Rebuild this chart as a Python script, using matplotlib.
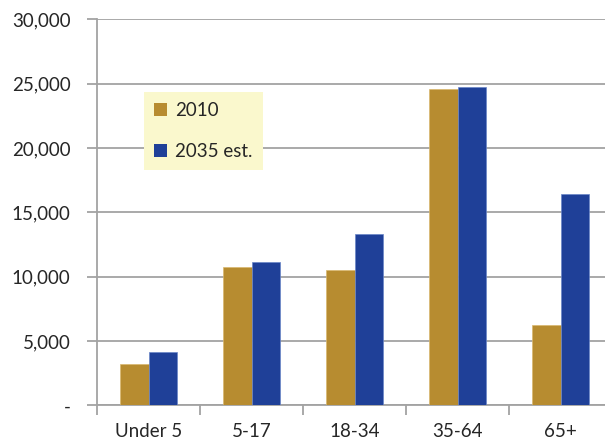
import matplotlib
matplotlib.use("Agg")
import matplotlib.pyplot as plt
from matplotlib.ticker import FixedLocator, FuncFormatter
import numpy as np

plt.rcParams['font.family'] = ['Lato', 'DejaVu Sans']

# Population by age group (thousands)
age_groups = ["Under 5", "5-17", "18-34", "35-64", "65+"]
pop_2010 = [3190, 10720, 10490, 24550, 6240]
pop_2035 = [4170, 11110, 13310, 24730, 16390]
series_labels = ["2010", "2035 est."]

gold = "#B78C30"
blue = "#1F4098"
grid_grey = "#A3A3A3"
text_col = "#262626"

fig = plt.figure(figsize=(6.05, 4.43), dpi=100)
ax = fig.add_axes([97 / 605, 37.7 / 443, 515 / 605, 386 / 443])

x = np.arange(len(age_groups))
w = 0.28
b1 = ax.bar(x - w / 2, pop_2010, width=w, color=gold, edgecolor="#D9B86E",
            linewidth=0.5, zorder=3, label=series_labels[0])
b2 = ax.bar(x + w / 2, pop_2035, width=w, color=blue, edgecolor="#6A86C8",
            linewidth=0.5, zorder=3, label=series_labels[1])

ax.set_xlim(-0.5, len(age_groups) - 0.5)
ax.set_ylim(0, 30000)

# y axis: gridlines and comma-formatted ticks, zero shown as a dash
ax.set_yticks(np.arange(0, 30001, 5000))
ax.yaxis.set_major_formatter(FuncFormatter(lambda v, p: "-" if v == 0 else f"{int(v):,}"))
ax.yaxis.grid(True, color=grid_grey, linewidth=1.3, zorder=0)
ax.set_axisbelow(True)

# x axis: tick marks between groups, labels centred under each group
ax.xaxis.set_major_locator(FixedLocator(np.arange(-0.5, len(age_groups), 1.0)))
ax.xaxis.set_major_formatter(FuncFormatter(lambda v, p: ""))
ax.xaxis.set_minor_locator(FixedLocator(x))
ax.set_xticklabels(age_groups, minor=True)

ax.tick_params(axis="y", length=7, width=1.3, color=grid_grey, pad=12,
               labelsize=13.5, labelcolor=text_col)
ax.tick_params(axis="x", which="major", length=7, width=1.3, color=grid_grey)
ax.tick_params(axis="x", which="minor", length=0, pad=13,
               labelsize=13.5, labelcolor=text_col)

for s in ("top", "right"):
    ax.spines[s].set_visible(False)
for s in ("left", "bottom"):
    ax.spines[s].set_color(grid_grey)
    ax.spines[s].set_linewidth(1.3)

leg = fig.legend(handles=[b1, b2], labels=series_labels,
                 loc="upper left", bbox_to_anchor=(144 / 605, 1 - 92 / 443),
                 frameon=True, fancybox=False, facecolor="#FAF8CD",
                 edgecolor="none", framealpha=1, fontsize=13.5,
                 handlelength=0.7, handleheight=0.7, handletextpad=0.4,
                 labelspacing=1.25, borderpad=0.55, borderaxespad=0)
for t in leg.get_texts():
    t.set_color(text_col)
for h in leg.legend_handles:
    h.set_edgecolor("none")

fig.savefig("out.png", dpi=100)
